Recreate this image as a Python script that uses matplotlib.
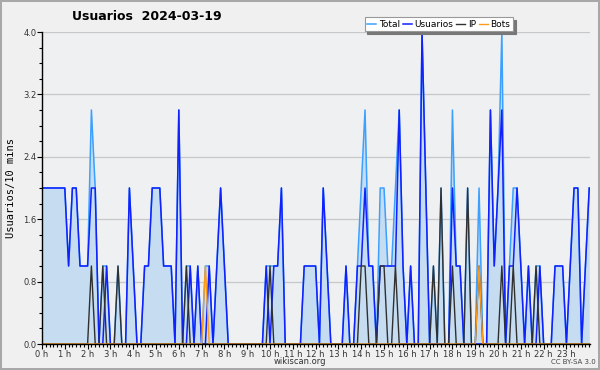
import matplotlib
matplotlib.use("Agg")
import matplotlib.pyplot as plt
from matplotlib.ticker import MultipleLocator

# one value per 10 minutes, 0 h .. 24 h
usuarios = [2, 2, 2, 2, 2, 2, 2, 1, 2, 2, 1, 1, 1, 2, 2, 0, 0, 1, 0, 0,
            0, 0, 0, 2, 1, 0, 0, 1, 1, 2, 2, 2, 1, 1, 1, 0, 3, 0, 0, 1,
            0, 1, 0, 0, 1, 0, 1, 2, 1, 0, 0, 0, 0, 0, 0, 0, 0, 0, 0, 1,
            0, 1, 1, 2, 0, 0, 0, 0, 0, 1, 1, 1, 1, 0, 2, 1, 0, 0, 0, 0,
            1, 0, 0, 1, 1, 2, 1, 1, 0, 1, 1, 1, 1, 1, 3, 1, 0, 1, 0, 0,
            4, 2, 0, 0, 0, 0, 0, 0, 2, 1, 1, 0, 0, 0, 0, 0, 0, 0, 3, 1,
            2, 3, 0, 1, 1, 2, 1, 0, 1, 0, 0, 1, 0, 0, 0, 1, 1, 1, 0, 1,
            2, 2, 0, 1, 2]
ip = [0, 0, 0, 0, 0, 0, 0, 0, 0, 0, 0, 0, 0, 1, 0, 0, 1, 0, 0, 0,
      1, 0, 0, 0, 0, 0, 0, 0, 0, 0, 0, 0, 0, 0, 0, 0, 0, 0, 1, 0,
      0, 0, 0, 0, 0, 0, 0, 0, 0, 0, 0, 0, 0, 0, 0, 0, 0, 0, 0, 0,
      1, 0, 0, 0, 0, 0, 0, 0, 0, 0, 0, 0, 0, 0, 0, 0, 0, 0, 0, 0,
      0, 0, 0, 0, 1, 1, 0, 0, 0, 1, 1, 0, 0, 1, 0, 0, 0, 0, 0, 0,
      0, 0, 0, 1, 0, 2, 0, 0, 1, 0, 0, 0, 2, 0, 0, 1, 0, 0, 0, 0,
      0, 1, 0, 0, 1, 0, 0, 0, 0, 0, 1, 0, 0, 0, 0, 0, 0, 0, 0, 0,
      0, 0, 0, 0, 0]
bots = [0] * 145
bots[43] = 1
bots[115] = 1
total = [u + i + b for u, i, b in zip(usuarios, ip, bots)]
x = list(range(len(total)))

hour_labels = ["%d h" % h for h in range(24)]
y_ticks = [0.0, 0.8, 1.6, 2.4, 3.2, 4.0]

fig = plt.figure(figsize=(6, 3.7), dpi=100, facecolor="#f0f0f0",
                 edgecolor="#a8a8a8", linewidth=1.5)
ax = fig.add_axes([42 / 600, 26 / 370, 548 / 600, 312 / 370])
ax.set_facecolor("#eef0f2")

ax.fill_between(x, total, 0, color="#c6dcf0", linewidth=0, zorder=1)
ax.plot(x, total, color="#3ba0ff", lw=1.1, label="Total", zorder=3)
ax.plot(x, usuarios, color="#1020ff", lw=1.1, label="Usuarios", zorder=4)
ax.plot(x, ip, color="#303030", lw=1.0, label="IP", zorder=5)
ax.plot(x, bots, color="#ff9a1a", lw=1.0, label="Bots", zorder=6)

ax.set_xlim(0, 144.2)
ax.set_ylim(0, 4.0)
ax.set_xticks(range(0, 144, 6))
ax.set_xticklabels(hour_labels, fontsize=6, color="#333333")
ax.xaxis.set_minor_locator(MultipleLocator(1))
ax.set_yticks(y_ticks)
ax.set_yticklabels(["%.1f" % v for v in y_ticks], fontsize=6, color="#333333")
ax.yaxis.set_minor_locator(MultipleLocator(0.2))
ax.tick_params(which="major", length=3.5, width=0.8, pad=0.5)
ax.tick_params(which="minor", length=2.2, width=0.8)
ax.grid(axis="y", color="#c8c8c8", lw=0.9, zorder=0)
ax.set_axisbelow(True)
for s in ["top", "right"]:
    ax.spines[s].set_visible(False)
for s in ["left", "bottom"]:
    ax.spines[s].set_linewidth(1.0)
    ax.spines[s].set_zorder(10)

ax.set_ylabel("Usuarios/10 mins", fontsize=7.5, family="DejaVu Sans Mono",
              labelpad=5)

fig.text(147 / 600, 1 - 17 / 370, "Usuarios  2024-03-19", ha="center",
         va="center", fontsize=9, fontweight="bold")

leg = fig.legend(loc="upper right", bbox_to_anchor=(513 / 600, 1 - 17 / 370),
                 ncol=4, fontsize=6.5, handlelength=1.0, handletextpad=0.3,
                 columnspacing=0.3, borderpad=0.3, fancybox=False,
                 shadow={"color": "#777777", "alpha": 1.0}, framealpha=1,
                 borderaxespad=0)
leg.get_frame().set_edgecolor("#999999")
leg.get_frame().set_linewidth(0.8)

fig.text(300 / 600, 1 - 362 / 370, "wikiscan.org", ha="center", va="center",
         fontsize=6, color="#333333")
fig.text(596 / 600, 1 - 362 / 370, "CC BY-SA 3.0", ha="right", va="center",
         fontsize=5, color="#444444")

fig.savefig("out.png", dpi=100, facecolor=fig.get_facecolor(),
            edgecolor=fig.get_edgecolor())
